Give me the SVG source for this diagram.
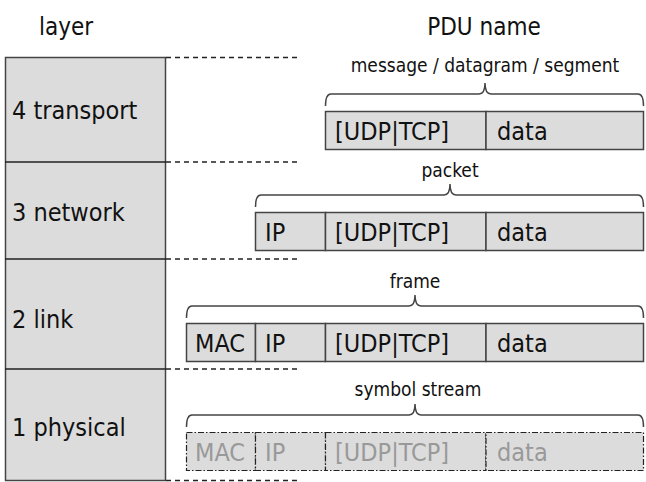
<svg xmlns="http://www.w3.org/2000/svg" width="646" height="482" viewBox="0 0 646 482">
<style>
text{font-family:"DejaVu Sans Condensed","DejaVu Sans",sans-serif;font-stretch:condensed;fill:#111}
.hdr{font-size:24px}
.lbl{font-size:25px}
.pdu{font-size:19px;text-anchor:middle}
.cell{fill:#dcdcdc;stroke:#444;stroke-width:1.5}
.phys{fill:#dcdcdc;stroke:#222;stroke-width:1.2;stroke-dasharray:6,2,1.5,2}
.brace{fill:none;stroke:#444;stroke-width:1.5}
.dash{stroke:#222;stroke-width:1.3;stroke-dasharray:5,4;fill:none}
.grey{fill:#999}
</style>
<text class="hdr" x="39" y="35">layer</text>
<text class="hdr" x="484" y="35" text-anchor="middle">PDU name</text>
<g id="layers">
<rect x="5.5" y="57.5" width="160" height="423" fill="#dcdcdc" stroke="#444" stroke-width="1.5"/>
<line x1="5" y1="162" x2="166" y2="162" stroke="#222" stroke-width="1.3"/>
<line x1="5" y1="259" x2="166" y2="259" stroke="#222" stroke-width="1.3"/>
<line x1="5" y1="369" x2="166" y2="369" stroke="#222" stroke-width="1.3"/>
<text class="lbl" x="12" y="119">4 transport</text>
<text class="lbl" x="12" y="221">3 network</text>
<text class="lbl" x="12" y="328">2 link</text>
<text class="lbl" x="12" y="436">1 physical</text>
</g>
<g id="connectors">
<line class="dash" x1="166" y1="57.5" x2="298" y2="57.5"/>
<line class="dash" x1="166" y1="162" x2="298" y2="162"/>
<line class="dash" x1="166" y1="259" x2="298" y2="259"/>
<line class="dash" x1="166" y1="369" x2="298" y2="369"/>
<line class="dash" x1="166" y1="480.5" x2="298" y2="480.5"/>
</g>
<g id="transport">
<text class="pdu" x="485" y="72">message / datagram / segment</text>
<path class="brace" d="M325.5,106 Q325.5,94 331,94 L479,94 Q485,94 485,83 Q485,94 491,94 L638,94 Q643.5,94 643.5,106"/>
<rect class="cell" x="325.5" y="111.5" width="160.5" height="38"/>
<rect class="cell" x="486" y="111.5" width="157.5" height="38"/>
<text class="lbl" x="335" y="140">[UDP|TCP]</text>
<text class="lbl" x="497" y="140">data</text>
</g>
<g id="network">
<text class="pdu" x="450" y="177">packet</text>
<path class="brace" d="M255.5,207 Q255.5,195 261,195 L444,195 Q450,195 450,184 Q450,195 456,195 L638,195 Q643.5,195 643.5,207"/>
<rect class="cell" x="255.5" y="212.5" width="70" height="38"/>
<rect class="cell" x="325.5" y="212.5" width="160.5" height="38"/>
<rect class="cell" x="486" y="212.5" width="157.5" height="38"/>
<text class="lbl" x="265" y="241">IP</text>
<text class="lbl" x="335" y="241">[UDP|TCP]</text>
<text class="lbl" x="497" y="241">data</text>
</g>
<g id="link">
<text class="pdu" x="415" y="288">frame</text>
<path class="brace" d="M186.5,318 Q186.5,306 192,306 L409,306 Q415,306 415,295 Q415,306 421,306 L638,306 Q643.5,306 643.5,318"/>
<rect class="cell" x="186.5" y="323.5" width="69" height="38"/>
<rect class="cell" x="255.5" y="323.5" width="70" height="38"/>
<rect class="cell" x="325.5" y="323.5" width="160.5" height="38"/>
<rect class="cell" x="486" y="323.5" width="157.5" height="38"/>
<text class="lbl" x="195" y="352">MAC</text>
<text class="lbl" x="265" y="352">IP</text>
<text class="lbl" x="335" y="352">[UDP|TCP]</text>
<text class="lbl" x="497" y="352">data</text>
</g>
<g id="physical">
<text class="pdu" x="418" y="396">symbol stream</text>
<path class="brace" d="M186.5,427 Q186.5,415 192,415 L409,415 Q415,415 415,404 Q415,415 421,415 L638,415 Q643.5,415 643.5,427"/>
<rect class="phys" x="186.5" y="432.5" width="69" height="38"/>
<rect class="phys" x="255.5" y="432.5" width="70" height="38"/>
<rect class="phys" x="325.5" y="432.5" width="160.5" height="38"/>
<rect class="phys" x="486" y="432.5" width="157.5" height="38"/>
<text class="lbl grey" x="195" y="461">MAC</text>
<text class="lbl grey" x="265" y="461">IP</text>
<text class="lbl grey" x="335" y="461">[UDP|TCP]</text>
<text class="lbl grey" x="497" y="461">data</text>
</g>
</svg>
